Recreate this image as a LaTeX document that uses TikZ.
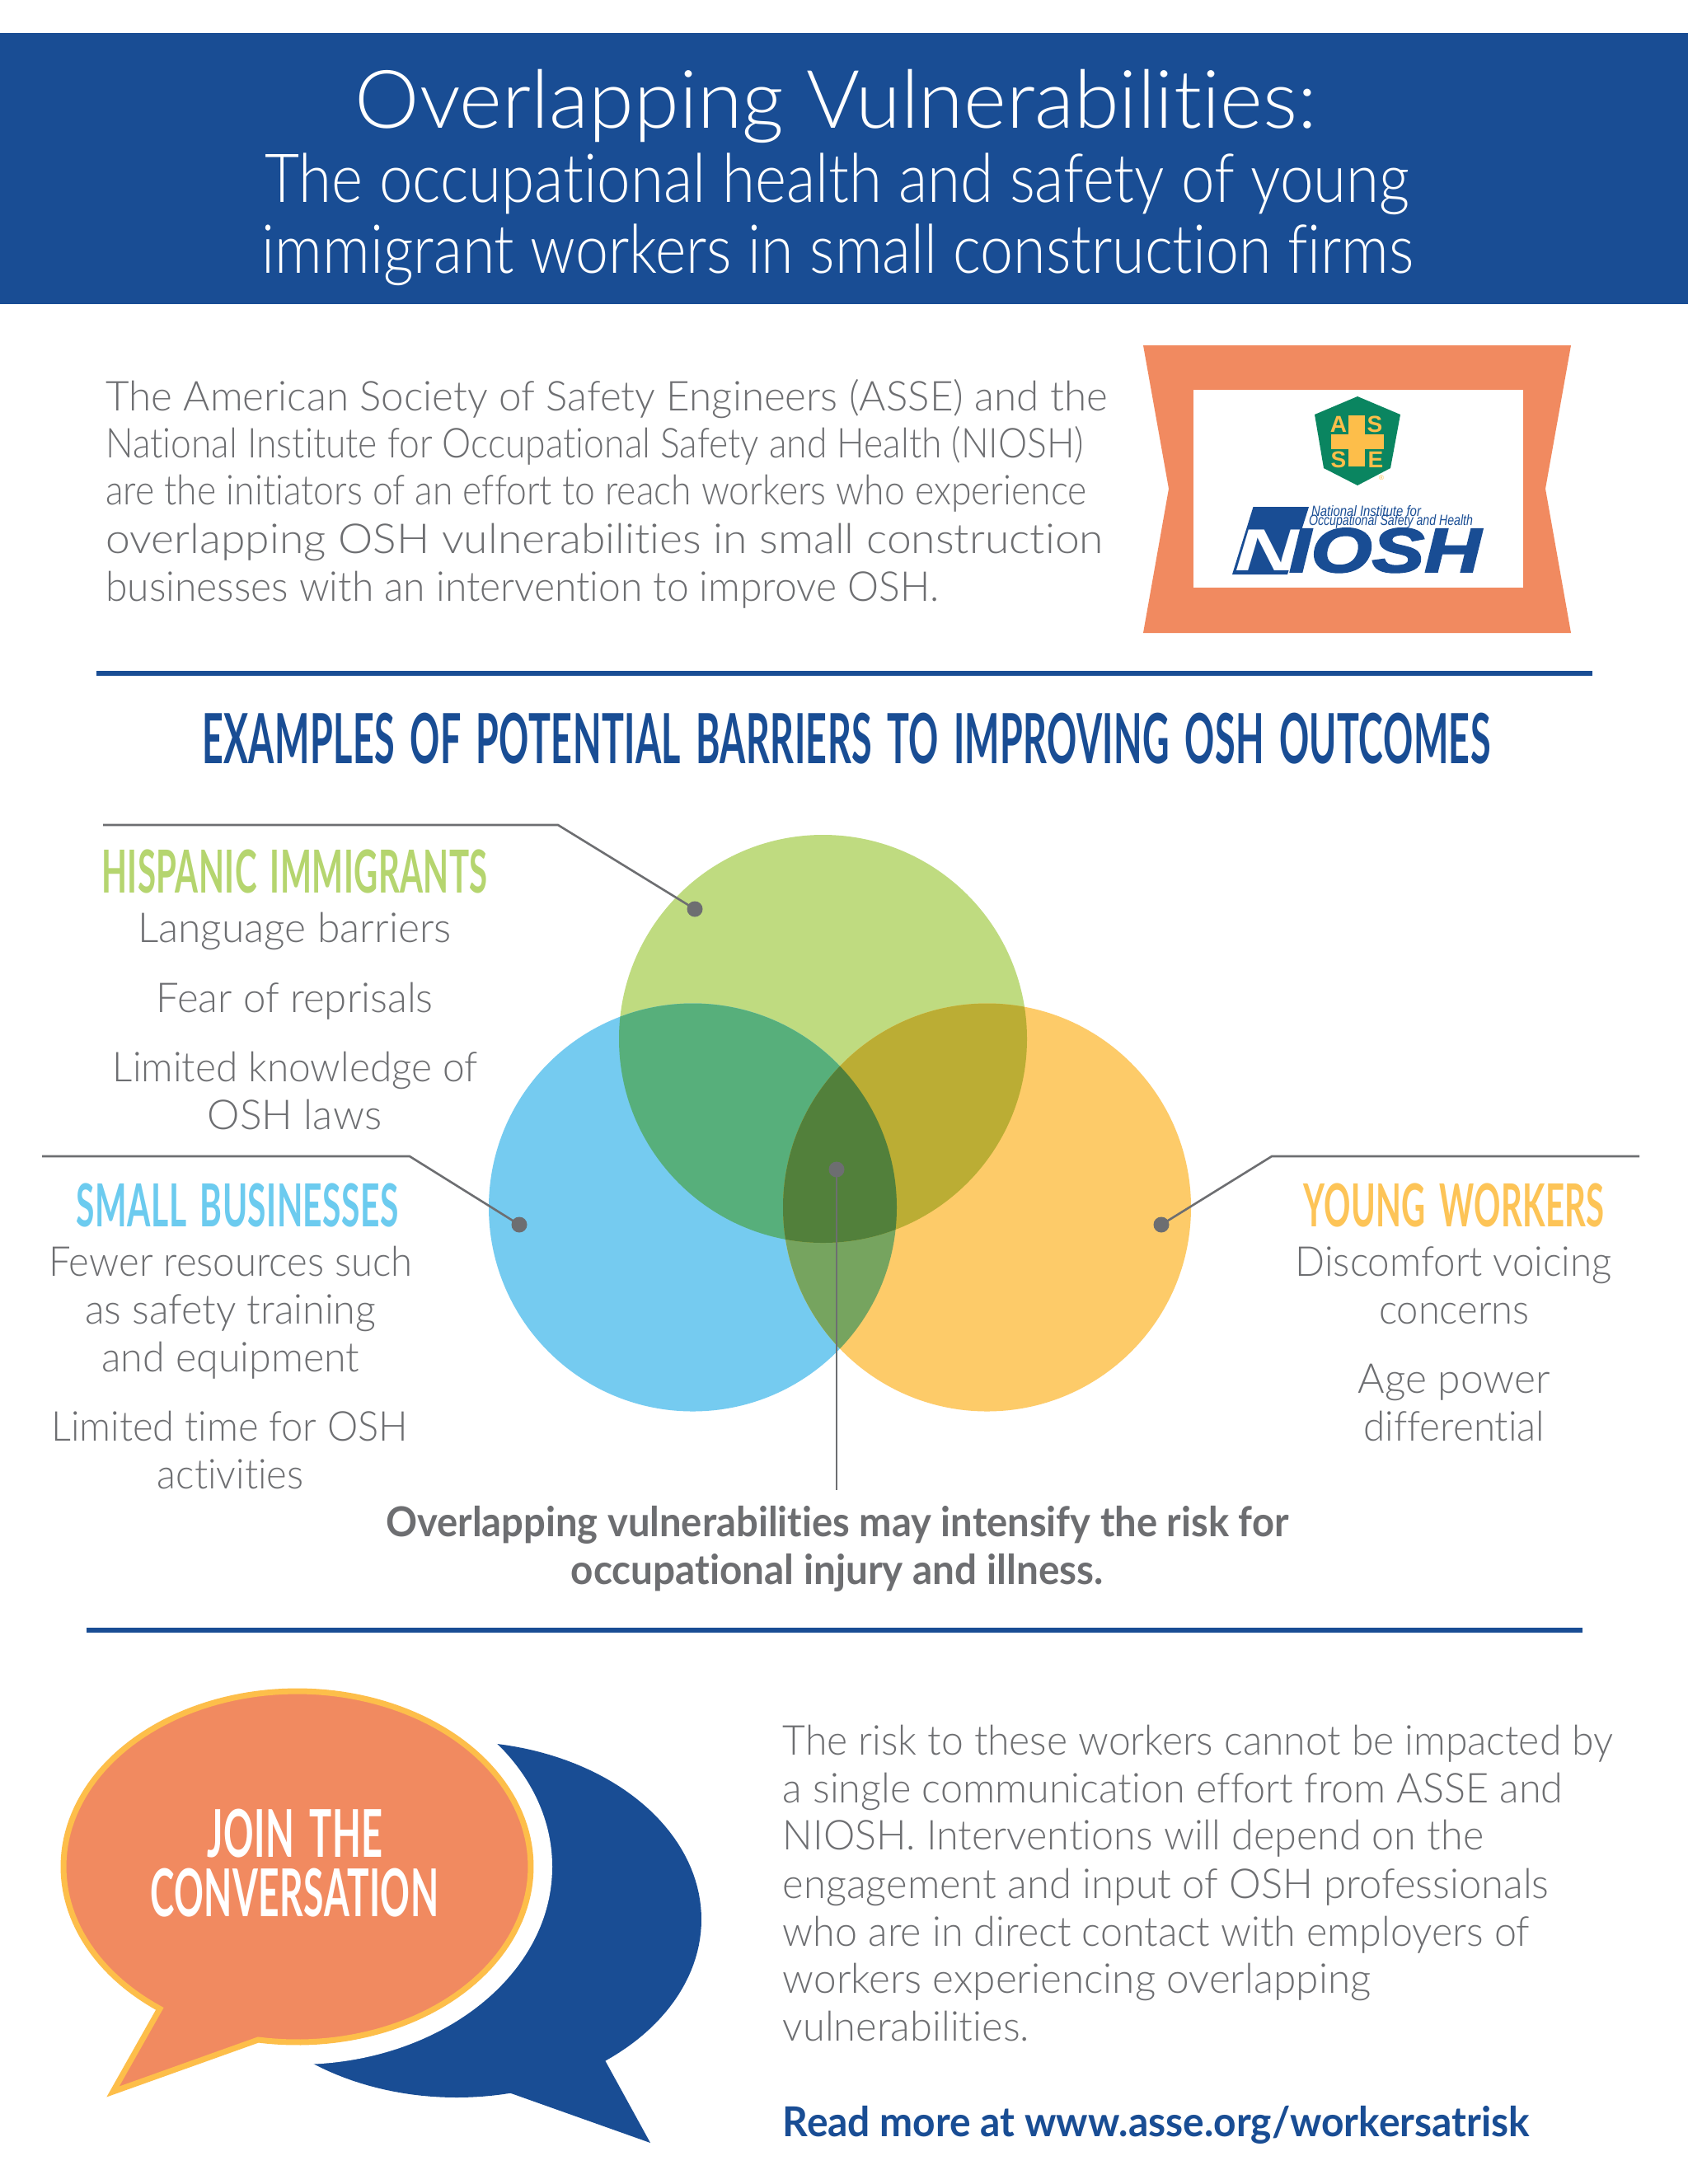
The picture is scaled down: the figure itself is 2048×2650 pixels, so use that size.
\documentclass[tikz,border=0pt]{standalone}
\usepackage{fontspec}
\usepackage{graphicx}
\setmainfont{Lato}
\newfontfamily\lightf{Lato Light}[RawFeature={-liga;-dlig;-clig}]
\newfontfamily\boldf{Lato}[UprightFont=* Bold,RawFeature={-liga;-dlig;-clig}]
\newfontfamily\headf{Lato}[UprightFont=* Bold,RawFeature={-liga;-dlig;-clig},WordSpace=1.6,LetterSpace=1]
\newfontfamily\logof{Liberation Sans}
\newfontfamily\heavyf{Liberation Sans}[UprightFont=* Bold Italic,FakeBold=2.5]
\definecolor{navy}{HTML}{194D94}
\definecolor{coral}{HTML}{F18A60}
\definecolor{sun}{HTML}{FDBE4A}
\definecolor{txtgray}{HTML}{6D6E71}
\definecolor{lgreen}{HTML}{BFDB80}
\definecolor{lblue}{HTML}{75CBF0}
\definecolor{lorange}{HTML}{FDCB69}
\definecolor{mixgb}{HTML}{57AF7B}
\definecolor{mixgo}{HTML}{BBAD34}
\definecolor{mixbo}{HTML}{76A45F}
\definecolor{mixall}{HTML}{52803B}
\definecolor{headgreen}{HTML}{B5D56F}
\definecolor{headblue}{HTML}{6CCBEF}
\definecolor{headorange}{HTML}{FDC457}
\definecolor{shield}{HTML}{0A8560}
\def\tfac{1.69}
% name, x1, x2, baseline, font+colour, text
\newcommand{\tline}[6]{%
  \pgfmathsetmacro\tlw{(#3-(#2))*\tfac*0.5}%
  \node[anchor=base west,inner sep=0pt,outer sep=0pt] (#1) at ({#2*\tfac},{#4*\tfac}) {\resizebox{\tlw pt}{\height}{#5#6}};%
}
\newcommand{\fs}[1]{\fontsize{#1}{#1}\selectfont}
\newcommand{\bodyt}{\lightf\fs{25}\color{txtgray}}
\newcommand{\bodyb}{\boldf\fs{25}\color{txtgray}}
\newcommand{\headc}[1]{\headf\fs{36}\color{#1}}
\tikzset{
  rulebar/.style={navy,line width=3pt},
  leader/.style={txtgray,line width=1.3pt},
  leaderdot/.style={circle,fill=txtgray,draw=none,inner sep=0pt,minimum size=9.5pt},
}
\begin{document}
\begin{tikzpicture}[x=0.5pt,y=-0.5pt]
\useasboundingbox (0,0) rectangle (2048,2650);
\fill[white] (0,0) rectangle (2048,2650);
% banner
\fill[navy] (0,40) rectangle (2048,369);
\tline{t1}{255}{945}{92}{\lightf\fs{49}\color{white}}{Overlapping Vulnerabilities:}
\tline{t2}{190}{1012}{145.5}{\lightf\fs{41}\color{white}}{The occupational health and safety of young}
\tline{t3}{188}{1015}{196}{\lightf\fs{41}\color{white}}{immigrant workers in small construction firms}
% intro
\tline{p1}{76}{795}{294.7}{\bodyt}{The American Society of Safety Engineers (ASSE) and the}
\tline{p2}{76}{778}{328.7}{\bodyt}{National Institute for Occupational Safety and Health (NIOSH)}
\tline{p3}{76}{780}{362.7}{\bodyt}{are the initiators of an effort to reach workers who experience}
\tline{p4}{76}{792}{397.5}{\bodyt}{overlapping OSH vulnerabilities in small construction}
\tline{p5}{76}{674}{431.5}{\bodyt}{businesses with an intervention to improve OSH.}
% ribbon
\fill[coral] (1387,419) -- (1906,419) -- (1875,593) -- (1906,768) -- (1387,768) -- (1418,593) -- cycle;
\fill[white] (1447.5,473) rectangle (1847.5,713);
% ASSE shield
\fill[shield] (1647,481) -- (1699,503) -- (1687,568) -- (1647,589) -- (1606,568) -- (1595,503) -- cycle;
\fill[sun] (1636,504) rectangle (1656,566);
\fill[sun] (1615,527) rectangle (1679,545);
\begingroup
\def\tfac{1}
\node[inner sep=0pt,text=sun] (asa) at (1624,515) {\logof\bfseries\fs{14}A};
\node[inner sep=0pt,text=sun] (ass) at (1668,515) {\logof\bfseries\fs{14}S};
\node[inner sep=0pt,text=sun] (ass2) at (1624,558) {\logof\bfseries\fs{14}S};
\node[inner sep=0pt,text=sun] (ase) at (1669,558) {\logof\bfseries\fs{14}E};
\node[inner sep=0pt,text=sun] (asr) at (1676,580) {\logof\fs{4}®};
% NIOSH logo
\fill[navy] (1520.5,615) -- (1588,615) -- (1562,697) -- (1495,697) -- cycle;
\tline{nn}{1498}{1578}{692}{\logof\bfseries\itshape\fs{36}\color{white}}{N}
\tline{nosh}{1564}{1797}{694}{\heavyf\fs{38}\color{navy}}{IOSH}
\tline{nl1}{1591}{1724}{626}{\logof\itshape\fs{9}\color{navy}}{National Institute for}
\tline{nl2}{1588}{1787}{637.5}{\logof\itshape\fs{9}\color{navy}}{Occupational Safety and Health}
\endgroup
% rule + heading
\draw[rulebar] (117,817) coordinate (r1a) -- (1932,817) coordinate (r1b);
\tline{hd}{145}{1070}{548}{\headf\fs{42}\color{navy}}{EXAMPLES OF POTENTIAL BARRIERS TO IMPROVING OSH OUTCOMES}
% venn regions
\fill[lgreen] (998.5,1260.5) circle[radius=247.5];
\fill[lblue] (840.5,1465) circle[radius=247.5];
\fill[lorange] (1197.5,1465) circle[radius=247.5];
\begin{scope}
\clip (840.5,1465) circle[radius=247.5];
\fill[mixgb] (998.5,1260.5) circle[radius=247.5];
\fill[mixbo] (1197.5,1465) circle[radius=247.5];
\end{scope}
\begin{scope}
\clip (1197.5,1465) circle[radius=247.5];
\fill[mixgo] (998.5,1260.5) circle[radius=247.5];
\clip (840.5,1465) circle[radius=247.5];
\fill[mixall] (998.5,1260.5) circle[radius=247.5];
\end{scope}
% leaders
\node[leaderdot] (dg) at (843,1103) {};
\node[leaderdot] (db) at (630,1486) {};
\node[leaderdot] (do) at (1409,1486) {};
\node[leaderdot] (dc) at (1015,1419) {};
\coordinate (gs) at (125,1001); \coordinate (gk) at (677,1001);
\coordinate (bs) at (51,1403); \coordinate (bk) at (497,1403);
\coordinate (os) at (1989,1403); \coordinate (ok) at (1543,1403);
\coordinate (ce) at (1015,1808);
\draw[leader] (gs) -- (gk) -- (dg.center);
\draw[leader] (bs) -- (bk) -- (db.center);
\draw[leader] (os) -- (ok) -- (do.center);
\draw[leader] (dc.center) -- (ce);
% hispanic
\tline{h0}{73}{350}{641}{\headc{headgreen}}{HISPANIC IMMIGRANTS}
\tline{h1}{99}{324}{676.7}{\bodyt}{Language barriers}
\tline{h2}{112}{311}{726.7}{\bodyt}{Fear of reprisals}
\tline{h3}{81}{343}{776.7}{\bodyt}{Limited knowledge of}
\tline{h4}{149}{274}{810.7}{\bodyt}{OSH laws}
% small business
\tline{s0}{55}{286}{881}{\headc{headblue}}{SMALL BUSINESSES}
\tline{s1}{35}{296}{916.5}{\bodyt}{Fewer resources such}
\tline{s2}{61}{270}{950.7}{\bodyt}{as safety training}
\tline{s3}{73}{258}{984.7}{\bodyt}{and equipment}
\tline{s4}{37}{293}{1034.7}{\bodyt}{Limited time for OSH}
\tline{s5}{113}{218}{1068.7}{\bodyt}{activities}
% young
\tline{y0}{936}{1152}{881}{\headc{headorange}}{YOUNG WORKERS}
\tline{y1}{930}{1157}{916.5}{\bodyt}{Discomfort voicing}
\tline{y2}{990}{1098}{950.7}{\bodyt}{concerns}
\tline{y3}{975}{1113}{1000.5}{\bodyt}{Age power}
\tline{y4}{979}{1109}{1034.7}{\bodyt}{differential}
% centre
\tline{c1}{277}{925}{1103}{\bodyb}{Overlapping vulnerabilities may intensify the risk for}
\tline{c2}{410}{792}{1137.5}{\bodyb}{occupational injury and illness.}
\draw[rulebar] (105,1978) coordinate (r2a) -- (1920,1978) coordinate (r2b);
% bubbles
\fill[navy] plot[domain=77.3:412.6,samples=160] ({554+297*cos(\x)},{2329+216*sin(\x)}) -- (789,2600) -- cycle;
\fill[white] (361,2265) ellipse[x radius=309,y radius=240];
\draw[sun,fill=coral,line width=3.5pt,line join=miter,miter limit=20] plot[domain=126:459.6,samples=160] ({360.5+283.5*cos(\x)},{2265+213*sin(\x)}) -- (137,2538) -- cycle;
\tline{j1}{149}{275}{1333.5}{\headf\fs{40}\color{white}}{JOIN THE}
\tline{j2}{108}{315}{1376}{\headf\fs{40}\color{white}}{CONVERSATION}
% closing text
\tline{q1}{562}{1158}{1260.2}{\bodyt}{The risk to these workers cannot be impacted by}
\tline{q2}{562}{1122}{1294.2}{\bodyt}{a single communication effort from ASSE and}
\tline{q3}{562}{1065}{1328.2}{\bodyt}{NIOSH. Interventions will depend on the}
\tline{q4}{562}{1112}{1363.2}{\bodyt}{engagement and input of OSH professionals}
\tline{q5}{562}{1098}{1397.2}{\bodyt}{who are in direct contact with employers of}
\tline{q6}{562}{984}{1431.2}{\bodyt}{workers experiencing overlapping}
\tline{q7}{562}{739}{1465.2}{\bodyt}{vulnerabilities.}
\tline{q8}{562}{1098}{1534}{\boldf\fs{25}\color{navy}}{Read more at www.asse.org/workersatrisk}
\end{tikzpicture}
\end{document}
